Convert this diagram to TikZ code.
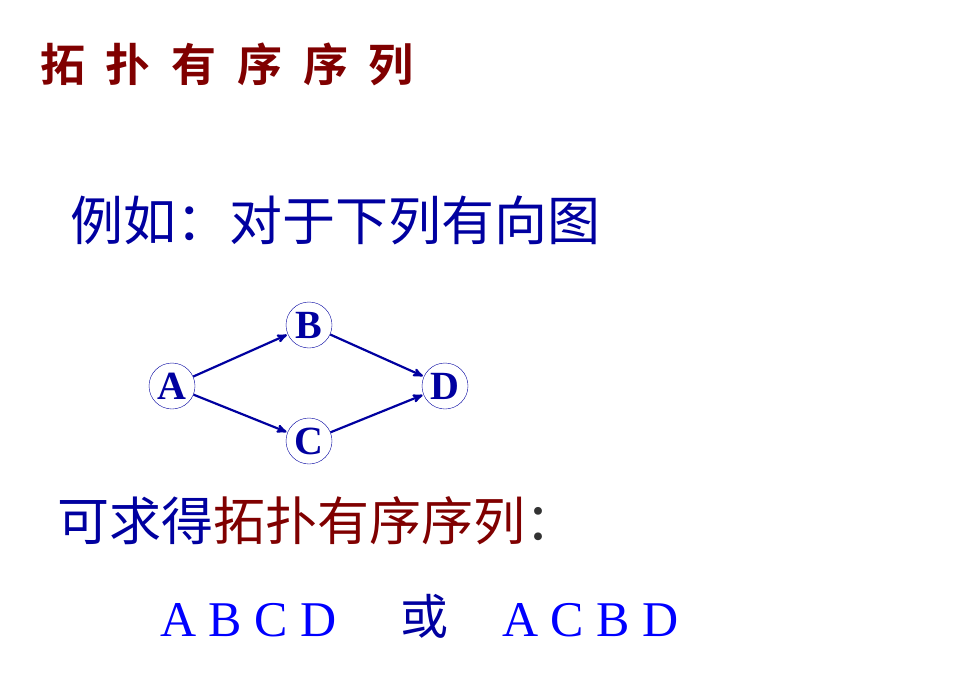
\documentclass[tikz,border=0pt]{standalone}
\usepackage{fontspec}
\usepackage{tikz}
\usetikzlibrary{arrows,positioning}
\setmainfont{Liberation Serif}
\newfontfamily\cjk{Noto Sans CJK SC}
\newfontfamily\cjkwide[LetterSpace=46,BoldFont={Noto Sans CJK SC Bold}]{Noto Sans CJK SC}
\definecolor{darkred}{RGB}{128,0,0}
\definecolor{navy}{RGB}{0,0,160}
\definecolor{pureblue}{RGB}{0,0,255}

\begin{document}
\begin{tikzpicture}[x=1pt,y=-1pt,->,>=stealth',shorten >=1pt,auto,semithick]
  \tikzstyle{vertex}=[circle,draw=navy,thin,minimum size=46pt,inner sep=0pt,text=navy,font=\fontsize{40}{40}\selectfont\bfseries]
  \tikzstyle{every node}=[inner sep=0pt]
  \useasboundingbox[fill=white] (0,0) rectangle (965,679);

  \node[anchor=base west,text=darkred] (T) at (40,82) {\fontsize{45}{45}\selectfont\cjkwide\bfseries 拓扑有序序列};
  \node[anchor=base west,text=navy] (L1) at (70,240) {\fontsize{53}{53}\selectfont\cjk 例如：对于下列有向图};

  \node[vertex] (A) at (172,386) {A};
  \node[vertex] (B) at (309,325) {B};
  \node[vertex] (C) at (309,441) {C};
  \node[vertex] (D) at (445,386) {D};

  \path[draw=navy,line width=2.2pt] (A) edge (B)
	(A) edge (C)
	(B) edge (D)
	(C) edge (D);

  \node[anchor=base west] (L2) at (57,540) {\fontsize{52}{52}\selectfont\cjk \textcolor{navy}{可求得}\textcolor{darkred}{拓扑有序序列}\textcolor{black!80}{：}};

  \node[anchor=base west,text=pureblue] (S1) at (160,636) {\fontsize{50}{50}\selectfont A B C D};
  \node[anchor=base west,text=navy] (or) at (400,634) {\fontsize{48}{48}\selectfont\cjk 或};
  \node[anchor=base west,text=pureblue] (S2) at (502,636) {\fontsize{50}{50}\selectfont A C B D};
\end{tikzpicture}
\end{document}
